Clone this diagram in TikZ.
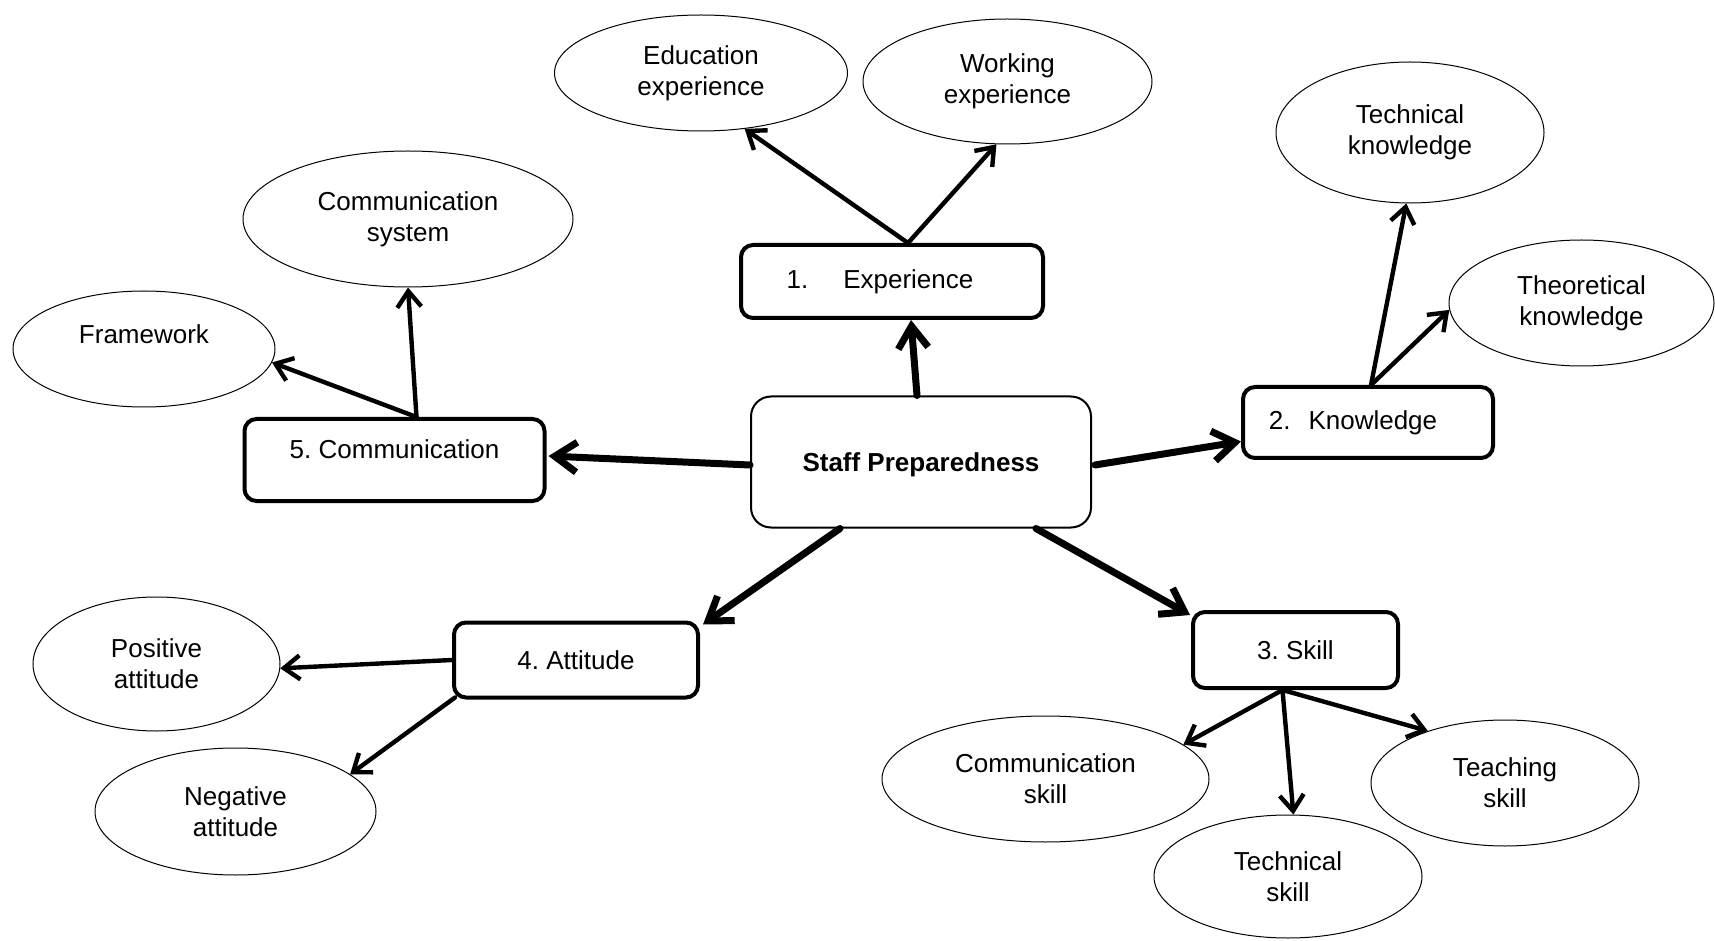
\documentclass[tikz,border=0pt]{standalone}
\usepackage{fontspec}
\setmainfont{Liberation Sans}
\usetikzlibrary{shapes.geometric,arrows.meta,calc}

\tikzset{
  hub/.style={draw,line width=1pt,rounded corners=10pt,minimum width=170pt,minimum height=65.5pt,text height=12.5pt,font=\fontsize{13}{15.3}\selectfont\frenchspacing\bfseries},
  factor/.style={draw,line width=2pt,rounded corners=6pt},
  bubble/.style={draw,ellipse,line width=0.5pt,align=center,inner sep=0pt},
  main/.style={line width=3.5pt,line cap=round,line join=round,-{Straight Barb[length=11pt,width=15pt]}},
  sub/.style={line width=2.2pt,line cap=round,line join=round,-{Straight Barb[length=8pt,width=12pt]}}
}

\begin{document}
\begin{tikzpicture}[x=0.5pt,y=-0.5pt,font=\fontsize{13}{15.3}\selectfont\frenchspacing]
  \useasboundingbox (0,0) rectangle (1715,941);

  \node[hub] (sp) at (921,462) {Staff Preparedness};
  \node[factor,minimum width=151pt,minimum height=36.5pt] (exp) at (892,281.5) {1.\hspace{17.5pt}Experience\hspace*{12pt}};
  \node[factor,minimum width=125pt,minimum height=35.5pt] (know) at (1368,422.5) {2.\hspace{9pt}Knowledge\hspace*{15pt}};
  \node[factor,minimum width=102.5pt,minimum height=38pt] (skill) at (1295.5,650) {3. Skill};
  \node[factor,minimum width=122pt,minimum height=37.5pt] (att) at (576,660) {4. Attitude};
  \node[factor,minimum width=150pt,minimum height=41pt,text depth=11pt] (comm) at (394.5,460) {5. Communication};

  \node[bubble,minimum width=146.5pt,minimum height=58pt] (edu) at (701,73) {Education\\experience};
  \node[bubble,minimum width=144.5pt,minimum height=62.5pt] (work) at (1007.5,81.5) {Working\\experience};
  \node[bubble,minimum width=134pt,minimum height=70.5pt] (tk) at (1410,132.5) {Technical\\knowledge};
  \node[bubble,minimum width=132.5pt,minimum height=63pt] (thk) at (1581.5,303) {Theoretical\\knowledge};
  \node[bubble,minimum width=165pt,minimum height=68pt] (cs) at (408,219) {Communication\\system};
  \node[bubble,minimum width=131pt,minimum height=58pt,text depth=15pt] (fw) at (144,349) {Framework};
  \node[bubble,minimum width=123.5pt,minimum height=67pt] (pa) at (156.5,664) {Positive\\attitude};
  \node[bubble,minimum width=140.5pt,minimum height=63.5pt] (na) at (235.5,811.5) {Negative\\attitude};
  \node[bubble,minimum width=163.5pt,minimum height=63pt] (csk) at (1045.5,779) {Communication\\skill};
  \node[bubble,minimum width=134pt,minimum height=61.5pt] (tsk) at (1288,876.5) {Technical\\skill};
  \node[bubble,minimum width=134pt,minimum height=63pt] (teach) at (1505,783) {Teaching\\skill};

  \coordinate (expTop) at ($(exp.north)+(16,0)$);
  \coordinate (knowTop) at ($(know.north)+(3,0)$);
  \coordinate (commTop) at ($(comm.north)+(22,0)$);
  \coordinate (attLow) at ($(att.south west)+(3,-2)$);
  \coordinate (skillBot) at ($(skill.south)+(-13,0)$);

  \draw[main] ($(sp.north)+(-4,0)$) -- ($(exp.south)+(19,0)$);
  \draw[main] ($(sp.east)+(3,3)$) -- ($(know.west)+(0,19)$);
  \draw[main] ($(sp.south)+(115,0)$) -- ($(skill.north west)+(-1,5)$);
  \draw[main] ($(sp.south)+(-81,0)$) -- ($(att.north east)+(3,4)$);
  \draw[main] ($(sp.west)+(0,3)$) -- ($(comm.east)+(2,-4)$);

  \foreach \from/\to in {expTop/edu.-52,expTop/work.-100,knowTop/tk.-93,knowTop/thk.183,
      commTop/cs.south,commTop/fw.-6,att.west/pa.-2,attLow/na.18,
      skillBot/csk.14,skillBot/tsk.85,skillBot/teach.146}
    \draw[sub] (\from) -- (\to);
\end{tikzpicture}
\end{document}
